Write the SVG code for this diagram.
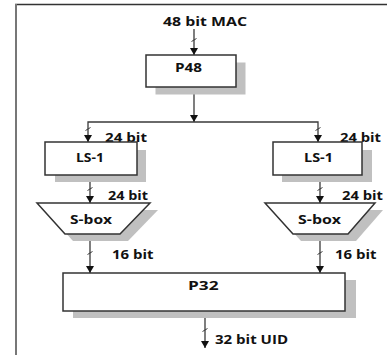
<svg xmlns="http://www.w3.org/2000/svg" width="387" height="355" viewBox="0 0 387 355">
<style>
.box{fill:#fff;stroke:#333;stroke-width:1.5}
.sh{fill:#c0c0c0}
.ln{stroke:#3a3a3a;stroke-width:1.3;fill:none}
.ar{marker-end:url(#ah)}
.tk{stroke:#3a3a3a;stroke-width:1}
text{font-family:"Open Sans","Liberation Sans",sans-serif;font-weight:bold;font-size:11.5px;fill:#111}
</style>
<defs>
<marker id="ah" viewBox="0 0 7 8" refX="7" refY="4" markerWidth="7" markerHeight="8" markerUnits="userSpaceOnUse" orient="auto">
<path d="M0,0 L7,4 L0,8 Z" fill="#111"/>
</marker>
</defs>
<rect width="387" height="355" fill="#fff"/>
<g id="frame">
<line x1="15" y1="4.5" x2="387" y2="4.5" stroke="#333" stroke-width="1.5"/>
<line x1="16" y1="4" x2="16" y2="355" stroke="#777" stroke-width="2"/>
</g>
<g id="connectors">
<line class="ln ar" x1="194" y1="29" x2="194" y2="55"/>
<line class="tk" x1="191.5" y1="41.5" x2="196.5" y2="38.5"/>
<line class="ln ar" x1="194" y1="87" x2="194" y2="122"/>
<path class="ln" d="M88,136 V122 H318 V136"/>
<line class="ln ar" x1="88" y1="135" x2="88" y2="142"/>
<line class="ln ar" x1="318" y1="135" x2="318" y2="142"/>
<line class="tk" x1="85.5" y1="130.5" x2="90.5" y2="127.5"/>
<line class="tk" x1="315.5" y1="130.5" x2="320.5" y2="127.5"/>
<line class="ln ar" x1="90" y1="175" x2="90" y2="203"/>
<line class="ln ar" x1="320" y1="175" x2="320" y2="203"/>
<line class="tk" x1="87.5" y1="190.5" x2="92.5" y2="187.5"/>
<line class="tk" x1="317.5" y1="190.5" x2="322.5" y2="187.5"/>
<line class="ln ar" x1="90" y1="234" x2="90" y2="273"/>
<line class="ln ar" x1="320" y1="234" x2="320" y2="273"/>
<line class="tk" x1="87.5" y1="254.5" x2="92.5" y2="251.5"/>
<line class="tk" x1="317.5" y1="254.5" x2="322.5" y2="251.5"/>
<line class="ln ar" x1="205" y1="311" x2="205" y2="348"/>
<line class="tk" x1="202.5" y1="331.5" x2="207.5" y2="328.5"/>
</g>
<g id="labels">
<text x="163" y="26" textLength="84" lengthAdjust="spacingAndGlyphs">48 bit MAC</text>
<text x="105" y="142" textLength="42" lengthAdjust="spacingAndGlyphs">24 bit</text>
<text x="340" y="142" textLength="41" lengthAdjust="spacingAndGlyphs">24 bit</text>
<text x="108" y="200" textLength="40" lengthAdjust="spacingAndGlyphs">24 bit</text>
<text x="342" y="200" textLength="41" lengthAdjust="spacingAndGlyphs">24 bit</text>
<text x="112" y="258.5" textLength="41.5" lengthAdjust="spacingAndGlyphs">16 bit</text>
<text x="335" y="258.5" textLength="41.5" lengthAdjust="spacingAndGlyphs">16 bit</text>
<text x="215" y="344" textLength="73" lengthAdjust="spacingAndGlyphs">32 bit UID</text>
</g>
<g id="p48">
<rect class="sh" x="155.5" y="62.5" width="90" height="32"/>
<rect class="box" x="146" y="55" width="90" height="32"/>
<text x="175" y="72" textLength="27" lengthAdjust="spacingAndGlyphs">P48</text>
</g>
<g id="ls1-left">
<rect class="sh" x="55" y="150" width="91" height="32"/>
<rect class="box" x="45" y="142" width="92" height="33"/>
<text x="76" y="161.5" textLength="28" lengthAdjust="spacingAndGlyphs">LS-1</text>
</g>
<g id="ls1-right">
<rect class="sh" x="282" y="150" width="90" height="32"/>
<rect class="box" x="273" y="142" width="89" height="33"/>
<text x="304" y="161.5" textLength="29" lengthAdjust="spacingAndGlyphs">LS-1</text>
</g>
<g id="sbox-left">
<polygon class="sh" points="45,210 158,210 128,241 73,241"/>
<polygon class="box" points="37,203 150,203 120,234 65,234"/>
<text x="70" y="224" textLength="42" lengthAdjust="spacingAndGlyphs">S-box</text>
</g>
<g id="sbox-right">
<polygon class="sh" points="273,210 383,210 356,241 301,241"/>
<polygon class="box" points="265,203 375,203 348,234 293,234"/>
<text x="298" y="224" textLength="43" lengthAdjust="spacingAndGlyphs">S-box</text>
</g>
<g id="p32">
<rect class="sh" x="73" y="280" width="283" height="38"/>
<rect class="box" x="63" y="273" width="282" height="38"/>
<text x="188" y="290" textLength="30.5" lengthAdjust="spacingAndGlyphs">P32</text>
</g>
</svg>
